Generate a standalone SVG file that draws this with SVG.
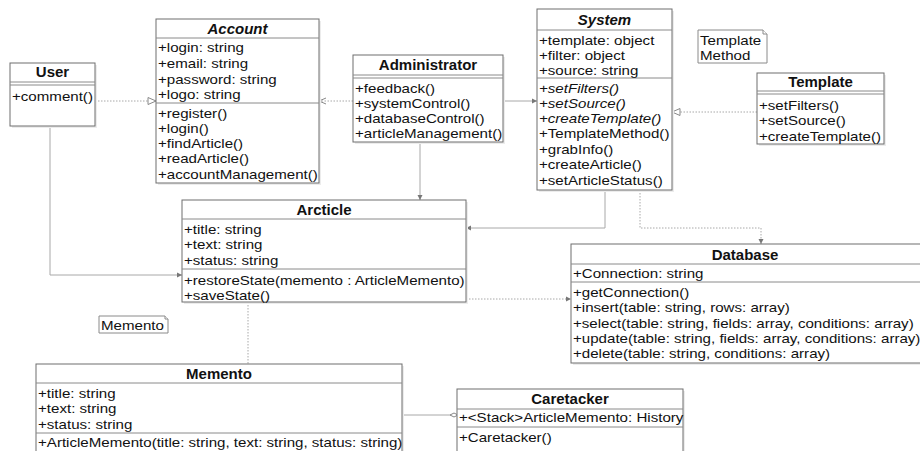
<svg xmlns="http://www.w3.org/2000/svg" width="920" height="451" viewBox="0 0 920 451">
<defs>
<style>
.box{fill:#fff;stroke:#6e6e6e;stroke-width:1}
.sep{stroke:#8a8a8a;stroke-width:1}
.sh{fill:#ececec}
text{font-family:"Liberation Sans",Arial,sans-serif;font-size:13.4px;fill:#111}
.t{font-weight:bold;text-anchor:middle;font-size:15px}
.i{font-style:italic}
.c{fill:none;stroke:#a8a8a8;stroke-width:1}
.d{fill:none;stroke:#a8a8a8;stroke-width:1;stroke-dasharray:1.5 1.5}
.note{fill:#fff;stroke:#8a8a8a;stroke-width:1}
</style>
<marker id="tri" markerWidth="10" markerHeight="10" refX="9" refY="5" orient="auto" markerUnits="userSpaceOnUse"><path d="M1,1.5 L9,5 L1,8.5 Z" fill="#fff" stroke="#888"/></marker>
<marker id="open" markerWidth="10" markerHeight="10" refX="9" refY="5" orient="auto" markerUnits="userSpaceOnUse"><path d="M2,2 L9,5 L2,8" fill="none" stroke="#888"/></marker>
<marker id="arr" markerWidth="6" markerHeight="6" refX="5" refY="3" orient="auto" markerUnits="userSpaceOnUse"><path d="M0,0.5 L5,3 L0,5.5 Z" fill="#777"/></marker>
<marker id="dia" markerWidth="10" markerHeight="6" refX="9" refY="3" orient="auto" markerUnits="userSpaceOnUse"><path d="M1,3 L5,1 L9,3 L5,5 Z" fill="#fff" stroke="#888"/></marker>
</defs>
<rect width="920" height="451" fill="#fff"/>

<g id="connectors">
<path class="d" d="M95,101 H156" marker-end="url(#tri)"/>
<path class="d" d="M353,101 H319" marker-end="url(#open)"/>
<path class="c" d="M503,101 H537" marker-end="url(#arr)"/>
<path class="c" d="M420,142 V200" marker-end="url(#arr)"/>
<path class="d" d="M757,112 H672" marker-end="url(#tri)"/>
<path class="c" d="M50,126 V275 H182" marker-end="url(#arr)"/>
<path class="c" d="M605,190 V228 H466" marker-end="url(#arr)"/>
<path class="d" d="M640,190 V228 H761 V244" marker-end="url(#arr)"/>
<path class="d" d="M466,299 H571" marker-end="url(#arr)"/>
<path class="d" d="M248,302 V364"/>
<path class="c" d="M402,415 H458" marker-end="url(#dia)"/>
</g>

<g id="User">
<rect class="sh" x="12" y="65" width="85" height="63"/>
<rect class="box" x="10" y="63" width="85" height="63"/>
<text class="t" x="52.5" y="77">User</text>
<line class="sep" x1="10" y1="82" x2="95" y2="82"/>
<line class="sep" x1="10" y1="85" x2="95" y2="85"/>
<g transform="matrix(1.127,0,0,1,-1.524,0)">
<text x="12" y="101">+comment()</text>
</g>
</g>

<g id="Account">
<rect class="sh" x="158" y="21" width="163" height="164"/>
<rect class="box" x="156" y="19" width="163" height="164"/>
<text class="t i" x="237.5" y="34">Account</text>
<line class="sep" x1="156" y1="38" x2="319" y2="38"/>
<line class="sep" x1="156" y1="103" x2="319" y2="103"/>
<g transform="matrix(1.127,0,0,1,-20.066,0)">
<text x="158" y="52">+login: string</text>
<text x="158" y="68">+email: string</text>
<text x="158" y="84">+password: string</text>
<text x="158" y="99">+logo: string</text>
<text x="158" y="118">+register()</text>
<text x="158" y="133">+login()</text>
<text x="158" y="148">+findArticle()</text>
<text x="158" y="163">+readArticle()</text>
<text x="158" y="179">+accountManagement()</text>
</g>
</g>

<g id="Administrator">
<rect class="sh" x="355" y="57" width="150" height="87"/>
<rect class="box" x="353" y="55" width="150" height="87"/>
<text class="t" x="428" y="70">Administrator</text>
<line class="sep" x1="353" y1="75" x2="503" y2="75"/>
<line class="sep" x1="353" y1="78" x2="503" y2="78"/>
<g transform="matrix(1.127,0,0,1,-45.085,0)">
<text x="355" y="93">+feedback()</text>
<text x="355" y="108">+systemControl()</text>
<text x="355" y="123">+databaseControl()</text>
<text x="355" y="138">+articleManagement()</text>
</g>
</g>

<g id="System">
<rect class="sh" x="539" y="11" width="135" height="181"/>
<rect class="box" x="537" y="9" width="135" height="181"/>
<text class="t i" x="604.5" y="25">System</text>
<line class="sep" x1="537" y1="30" x2="672" y2="30"/>
<line class="sep" x1="537" y1="78" x2="672" y2="78"/>
<g transform="matrix(1.127,0,0,1,-68.453,0)">
<text x="539" y="45">+template: object</text>
<text x="539" y="60">+filter: object</text>
<text x="539" y="75">+source: string</text>
<text class="i" x="539" y="93">+setFilters()</text>
<text class="i" x="539" y="108">+setSource()</text>
<text class="i" x="539" y="123">+createTemplate()</text>
<text x="539" y="138">+TemplateMethod()</text>
<text x="539" y="154">+grabInfo()</text>
<text x="539" y="169">+createArticle()</text>
<text x="539" y="185">+setArticleStatus()</text>
</g>
</g>

<g id="TemplateMethodNote">
<path class="note" d="M698,30 H763 L767,34 V63 H698 Z"/>
<path class="note" d="M763,30 V34 H767"/>
<g transform="matrix(1.127,0,0,1,-88.9,0)">
<text x="700" y="45">Template</text>
<text x="700" y="60">Method</text>
</g>
</g>

<g id="Template">
<rect class="sh" x="759" y="75" width="127" height="71"/>
<rect class="box" x="757" y="73" width="127" height="71"/>
<text class="t" x="820.5" y="87">Template</text>
<line class="sep" x1="757" y1="91" x2="884" y2="91"/>
<line class="sep" x1="757" y1="94" x2="884" y2="94"/>
<g transform="matrix(1.127,0,0,1,-96.393,0)">
<text x="759" y="110">+setFilters()</text>
<text x="759" y="125">+setSource()</text>
<text x="759" y="141">+createTemplate()</text>
</g>
</g>

<g id="Arcticle">
<rect class="sh" x="184" y="202" width="284" height="102"/>
<rect class="box" x="182" y="200" width="284" height="102"/>
<text class="t" x="324" y="215">Arcticle</text>
<line class="sep" x1="182" y1="219" x2="466" y2="219"/>
<line class="sep" x1="182" y1="269" x2="466" y2="269"/>
<g transform="matrix(1.127,0,0,1,-23.368,0)">
<text x="184" y="234">+title: string</text>
<text x="184" y="249">+text: string</text>
<text x="184" y="265">+status: string</text>
<text x="184" y="285">+restoreState(memento : ArticleMemento)</text>
<text x="184" y="300">+saveState()</text>
</g>
</g>

<g id="Database">
<rect class="sh" x="573" y="246" width="349" height="119"/>
<rect class="box" x="571" y="244" width="350" height="119"/>
<text class="t" x="745" y="260">Database</text>
<line class="sep" x1="571" y1="264" x2="920" y2="264"/>
<line class="sep" x1="571" y1="282" x2="920" y2="282"/>
<g transform="matrix(1.127,0,0,1,-72.771,0)">
<text x="573" y="278">+Connection: string</text>
<text x="573" y="297">+getConnection()</text>
<text x="573" y="312">+insert(table: string, rows: array)</text>
<text x="573" y="328">+select(table: string, fields: array, conditions: array)</text>
<text x="573" y="343">+update(table: string, fields: array, conditions: array)</text>
<text x="573" y="358">+delete(table: string, conditions: array)</text>
</g>
</g>

<g id="MementoNote">
<path class="note" d="M99,316 H165 L168,319 V333 H99 Z"/>
<path class="note" d="M165,316 V319 H168"/>
<g transform="matrix(1.127,0,0,1,-12.827,0)">
<text x="101" y="330">Memento</text>
</g>
</g>

<g id="Memento">
<rect class="sh" x="38" y="366" width="366" height="90"/>
<rect class="box" x="36" y="364" width="366" height="90"/>
<text class="t" x="219" y="379">Memento</text>
<line class="sep" x1="36" y1="383" x2="402" y2="383"/>
<line class="sep" x1="36" y1="433" x2="402" y2="433"/>
<g transform="matrix(1.127,0,0,1,-4.826,0)">
<text x="38" y="398">+title: string</text>
<text x="38" y="413">+text: string</text>
<text x="38" y="429">+status: string</text>
<text x="38" y="447">+ArticleMemento(title: string, text: string, status: string)</text>
</g>
</g>

<g id="Caretacker">
<rect class="sh" x="459" y="391" width="226" height="65"/>
<rect class="box" x="457" y="389" width="226" height="65"/>
<text class="t" x="570" y="404">Caretacker</text>
<line class="sep" x1="457" y1="409" x2="683" y2="409"/>
<line class="sep" x1="457" y1="427" x2="683" y2="427"/>
<g transform="matrix(1.127,0,0,1,-58.293,0)">
<text x="459" y="422">+&lt;Stack&gt;ArticleMemento: History</text>
<text x="459" y="442">+Caretacker()</text>
</g>
</g>
</svg>
